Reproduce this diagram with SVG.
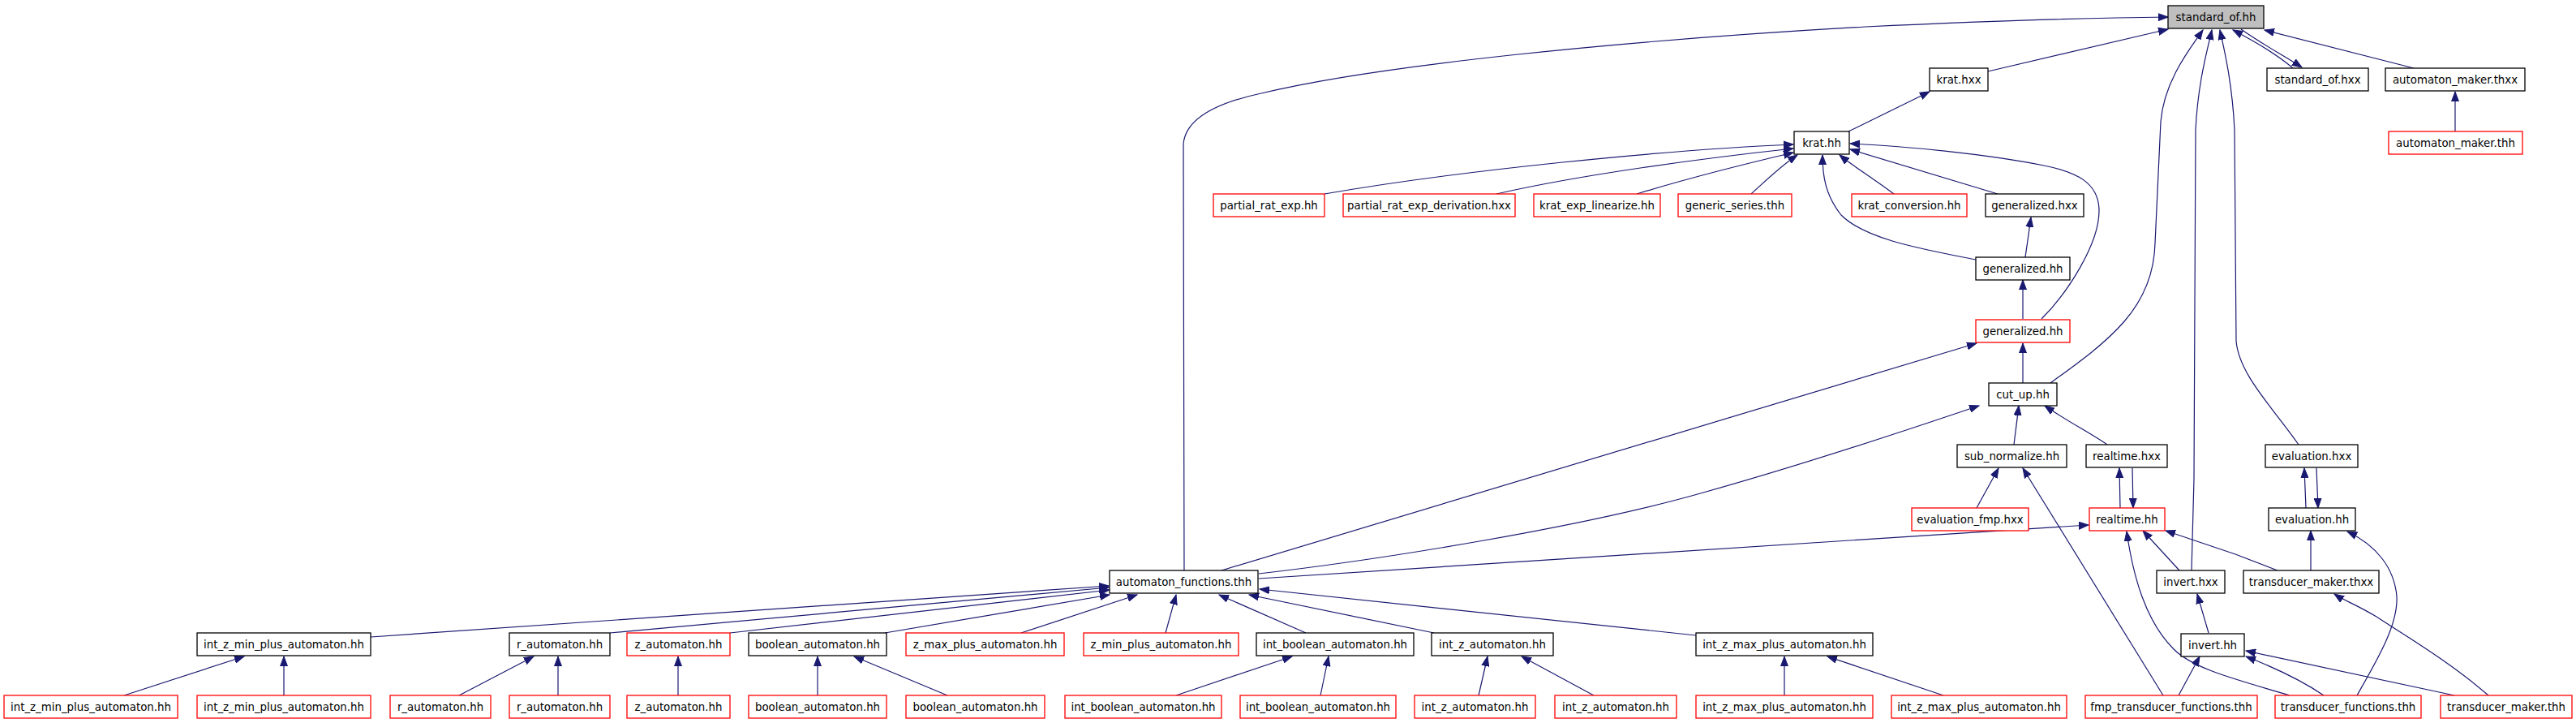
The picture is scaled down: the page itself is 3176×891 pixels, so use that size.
<svg xmlns="http://www.w3.org/2000/svg" width="3176" height="891" viewBox="0 0 3176 891">
<style>
.n rect{fill:#fff;stroke:#000;stroke-width:1.3}
.u rect{stroke:#f00}
.r rect{fill:#bfbfbf}
.n text{font-family:"DejaVu Sans","Liberation Sans",Arial,sans-serif;font-size:13.33px;fill:#000;text-anchor:middle}
.e path{fill:none;stroke:#191970;stroke-width:1.2;marker-end:url(#a)}
</style>
<defs>
<marker id="a" markerUnits="userSpaceOnUse" markerWidth="13" markerHeight="10" refX="12" refY="5" orient="auto"><path d="M0,0.5 L12,5 L0,9.5 z" fill="#191970" stroke="#191970" stroke-width="1"/></marker>
</defs>
<rect width="3176" height="891" fill="#fff"/>
<g id="edges" class="e">
<path d="M2451,88 L2673,36"/>
<path d="M2976,84 L2792,37"/>
<path d="M2763,36 C2790,55 2818,70 2838,83"/>
<path d="M2827,84 C2805,65 2778,50 2753,37"/>
<path d="M3027,162 L3027,113"/>
<path d="M2279,162 L2379,113"/>
<path d="M1633,239 C1800,210 2050,185 2211,178"/>
<path d="M1845,239 C1950,215 2100,195 2211,183"/>
<path d="M2018,239 C2080,220 2160,200 2211,188"/>
<path d="M2159,239 C2180,220 2195,205 2216,191"/>
<path d="M2335,239 C2310,220 2285,205 2268,191"/>
<path d="M2463,239 L2281,184"/>
<path d="M2517,393 C2550,360 2588,300 2588,260 C2588,225 2560,212 2520,204 C2450,190 2350,180 2281,177"/>
<path d="M2436,320 C2370,307 2300,295 2270,265 C2250,240 2247,215 2247,191"/>
<path d="M2497,317 L2504,268"/>
<path d="M2494,393 L2494,345"/>
<path d="M2494,472 L2494,423"/>
<path d="M2528,472 C2600,420 2655,380 2657,300 L2664,150 C2668,100 2700,60 2716,37"/>
<path d="M1460,703 L1459,178 Q1462,135 1555,115 C1700,80 2000,50 2300,33 C2450,26 2570,22 2673,21"/>
<path d="M2702,703 L2705,590 L2707,160 C2710,100 2722,60 2727,37"/>
<path d="M2834,548 C2800,500 2760,460 2757,420 L2755,160 C2752,100 2742,60 2737,37"/>
<path d="M1506,703 L2437,423"/>
<path d="M1552,707 C1700,690 1950,650 2100,607 C2250,565 2380,520 2440,500"/>
<path d="M2483,548 L2489,500"/>
<path d="M2598,548 C2580,535 2550,520 2521,500"/>
<path d="M2437,626 L2464,577"/>
<path d="M2667,857 L2494,577"/>
<path d="M2614,626 L2613,577"/>
<path d="M2629,577 L2630,626"/>
<path d="M2843,626 L2841,577"/>
<path d="M2856,577 L2858,626"/>
<path d="M1552,713 L2575,647"/>
<path d="M2687,703 L2642,654"/>
<path d="M2808,703 L2756,683 L2670,654"/>
<path d="M2823,857 C2760,838 2705,825 2680,800 C2645,765 2630,710 2622,655"/>
<path d="M2849,703 L2849,654"/>
<path d="M2906,857 C2930,815 2957,770 2955,735 C2952,700 2930,672 2894,655"/>
<path d="M2723,780 L2709,732"/>
<path d="M2686,857 L2712,809"/>
<path d="M2865,857 C2840,840 2810,825 2769,809"/>
<path d="M3026,857 L2769,802"/>
<path d="M3068,857 C3020,815 2960,780 2930,760 C2905,745 2890,740 2878,732"/>
<path d="M457,785 L1367,722"/>
<path d="M752,780 L1367,724"/>
<path d="M900,780 L1368,727"/>
<path d="M1091,780 L1368,733"/>
<path d="M1259,780 L1402,733"/>
<path d="M1437,780 L1450,733"/>
<path d="M1610,780 L1503,733"/>
<path d="M1768,780 L1540,733"/>
<path d="M2091,783 L1553,726"/>
<path d="M153,857 L301,809"/>
<path d="M350,857 L350,809"/>
<path d="M566,857 L658,809"/>
<path d="M688,857 L688,809"/>
<path d="M836,857 L836,809"/>
<path d="M1008,857 L1008,809"/>
<path d="M1168,857 L1053,809"/>
<path d="M1450,857 L1593,809"/>
<path d="M1628,857 L1638,809"/>
<path d="M1823,857 L1834,809"/>
<path d="M1965,857 L1876,809"/>
<path d="M2200,857 L2200,809"/>
<path d="M2396,857 L2253,809"/>
</g>
<g id="n_standard_of_hh" class="n r"><rect x="2673" y="7" width="118" height="28"/><text x="2732" y="26">standard_of.hh</text></g>
<g id="n_krat_hxx" class="n"><rect x="2379" y="84" width="72" height="28"/><text x="2415" y="103">krat.hxx</text></g>
<g id="n_standard_of_hxx" class="n"><rect x="2795" y="84" width="125" height="28"/><text x="2857.5" y="103">standard_of.hxx</text></g>
<g id="n_automaton_maker_thxx" class="n"><rect x="2941" y="84" width="172" height="28"/><text x="3027" y="103">automaton_maker.thxx</text></g>
<g id="n_krat_hh" class="n"><rect x="2212" y="162" width="68" height="28"/><text x="2246" y="181">krat.hh</text></g>
<g id="n_automaton_maker_thh" class="n u"><rect x="2945" y="162" width="165" height="28"/><text x="3027.5" y="181">automaton_maker.thh</text></g>
<g id="n_partial_rat_exp_hh" class="n u"><rect x="1496" y="239" width="137" height="28"/><text x="1564.5" y="258">partial_rat_exp.hh</text></g>
<g id="n_partial_rat_exp_derivation_hxx" class="n u"><rect x="1656" y="239" width="212" height="28"/><text x="1762" y="258">partial_rat_exp_derivation.hxx</text></g>
<g id="n_krat_exp_linearize_hh" class="n u"><rect x="1891" y="239" width="156" height="28"/><text x="1969" y="258">krat_exp_linearize.hh</text></g>
<g id="n_generic_series_thh" class="n u"><rect x="2069" y="239" width="140" height="28"/><text x="2139" y="258">generic_series.thh</text></g>
<g id="n_krat_conversion_hh" class="n u"><rect x="2283" y="239" width="142" height="28"/><text x="2354" y="258">krat_conversion.hh</text></g>
<g id="n_generalized_hxx" class="n"><rect x="2448" y="239" width="121" height="28"/><text x="2508.5" y="258">generalized.hxx</text></g>
<g id="n_generalized_hh_1" class="n"><rect x="2436" y="317" width="116" height="28"/><text x="2494" y="336">generalized.hh</text></g>
<g id="n_generalized_hh_2" class="n u"><rect x="2436" y="394" width="116" height="28"/><text x="2494" y="413">generalized.hh</text></g>
<g id="n_cut_up_hh" class="n"><rect x="2452" y="472" width="84" height="28"/><text x="2494" y="491">cut_up.hh</text></g>
<g id="n_sub_normalize_hh" class="n"><rect x="2413" y="548" width="135" height="28"/><text x="2480.5" y="567">sub_normalize.hh</text></g>
<g id="n_realtime_hxx" class="n"><rect x="2572" y="548" width="100" height="28"/><text x="2622" y="567">realtime.hxx</text></g>
<g id="n_evaluation_hxx" class="n"><rect x="2793" y="548" width="114" height="28"/><text x="2850" y="567">evaluation.hxx</text></g>
<g id="n_evaluation_fmp_hxx" class="n u"><rect x="2357" y="626" width="144" height="28"/><text x="2429" y="645">evaluation_fmp.hxx</text></g>
<g id="n_realtime_hh" class="n u"><rect x="2576" y="626" width="93" height="28"/><text x="2622.5" y="645">realtime.hh</text></g>
<g id="n_evaluation_hh" class="n"><rect x="2797" y="626" width="107" height="28"/><text x="2850.5" y="645">evaluation.hh</text></g>
<g id="n_automaton_functions_thh" class="n"><rect x="1368" y="703" width="183" height="28"/><text x="1459.5" y="722">automaton_functions.thh</text></g>
<g id="n_invert_hxx" class="n"><rect x="2659" y="703" width="84" height="28"/><text x="2701" y="722">invert.hxx</text></g>
<g id="n_transducer_maker_thxx" class="n"><rect x="2766" y="703" width="167" height="28"/><text x="2849.5" y="722">transducer_maker.thxx</text></g>
<g id="n_int_z_min_plus_automaton_hh" class="n"><rect x="243" y="780" width="214" height="28"/><text x="350" y="799">int_z_min_plus_automaton.hh</text></g>
<g id="n_r_automaton_hh" class="n"><rect x="628" y="780" width="124" height="28"/><text x="690" y="799">r_automaton.hh</text></g>
<g id="n_z_automaton_hh" class="n u"><rect x="773" y="780" width="127" height="28"/><text x="836.5" y="799">z_automaton.hh</text></g>
<g id="n_boolean_automaton_hh" class="n"><rect x="923" y="780" width="170" height="28"/><text x="1008" y="799">boolean_automaton.hh</text></g>
<g id="n_z_max_plus_automaton_hh" class="n u"><rect x="1117" y="780" width="195" height="28"/><text x="1214.5" y="799">z_max_plus_automaton.hh</text></g>
<g id="n_z_min_plus_automaton_hh" class="n u"><rect x="1336" y="780" width="191" height="28"/><text x="1431.5" y="799">z_min_plus_automaton.hh</text></g>
<g id="n_int_boolean_automaton_hh" class="n"><rect x="1549" y="780" width="194" height="28"/><text x="1646" y="799">int_boolean_automaton.hh</text></g>
<g id="n_int_z_automaton_hh" class="n"><rect x="1765" y="780" width="150" height="28"/><text x="1840" y="799">int_z_automaton.hh</text></g>
<g id="n_int_z_max_plus_automaton_hh" class="n"><rect x="2091" y="780" width="218" height="28"/><text x="2200" y="799">int_z_max_plus_automaton.hh</text></g>
<g id="n_invert_hh" class="n"><rect x="2689" y="781" width="78" height="28"/><text x="2728" y="800">invert.hh</text></g>
<g id="n_b1" class="n u"><rect x="5" y="857" width="214" height="28"/><text x="112" y="876">int_z_min_plus_automaton.hh</text></g>
<g id="n_b2" class="n u"><rect x="243" y="857" width="214" height="28"/><text x="350" y="876">int_z_min_plus_automaton.hh</text></g>
<g id="n_b3" class="n u"><rect x="481" y="857" width="124" height="28"/><text x="543" y="876">r_automaton.hh</text></g>
<g id="n_b4" class="n u"><rect x="628" y="857" width="124" height="28"/><text x="690" y="876">r_automaton.hh</text></g>
<g id="n_b5" class="n u"><rect x="773" y="857" width="127" height="28"/><text x="836.5" y="876">z_automaton.hh</text></g>
<g id="n_b6" class="n u"><rect x="923" y="857" width="170" height="28"/><text x="1008" y="876">boolean_automaton.hh</text></g>
<g id="n_b7" class="n u"><rect x="1117" y="857" width="171" height="28"/><text x="1202.5" y="876">boolean_automaton.hh</text></g>
<g id="n_b8" class="n u"><rect x="1313" y="857" width="193" height="28"/><text x="1409.5" y="876">int_boolean_automaton.hh</text></g>
<g id="n_b9" class="n u"><rect x="1529" y="857" width="192" height="28"/><text x="1625" y="876">int_boolean_automaton.hh</text></g>
<g id="n_b10" class="n u"><rect x="1744" y="857" width="149" height="28"/><text x="1818.5" y="876">int_z_automaton.hh</text></g>
<g id="n_b11" class="n u"><rect x="1917" y="857" width="150" height="28"/><text x="1992" y="876">int_z_automaton.hh</text></g>
<g id="n_b12" class="n u"><rect x="2091" y="857" width="218" height="28"/><text x="2200" y="876">int_z_max_plus_automaton.hh</text></g>
<g id="n_b13" class="n u"><rect x="2332" y="857" width="216" height="28"/><text x="2440" y="876">int_z_max_plus_automaton.hh</text></g>
<g id="n_fmp_transducer_functions_thh" class="n u"><rect x="2571" y="857" width="212" height="28"/><text x="2677" y="876">fmp_transducer_functions.thh</text></g>
<g id="n_transducer_functions_thh" class="n u"><rect x="2805" y="857" width="180" height="28"/><text x="2895" y="876">transducer_functions.thh</text></g>
<g id="n_transducer_maker_thh" class="n u"><rect x="3009" y="857" width="162" height="28"/><text x="3090" y="876">transducer_maker.thh</text></g>
</svg>
